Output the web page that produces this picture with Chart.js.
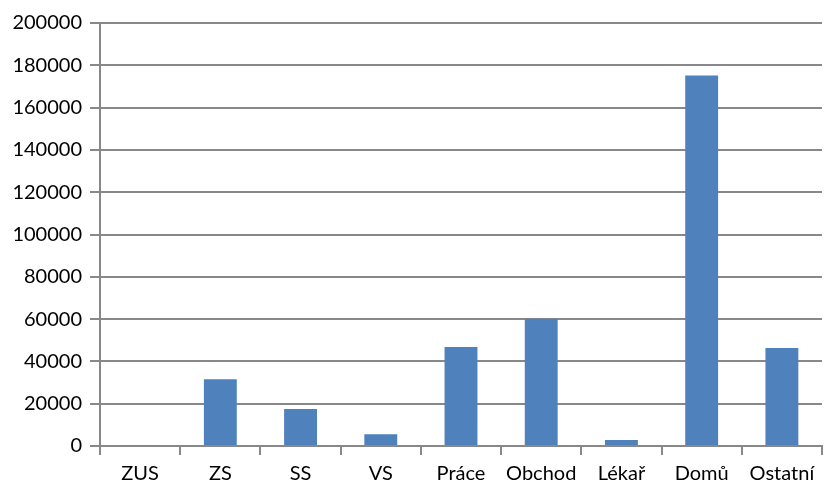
<!DOCTYPE html>
<html>
<head>
<meta charset="utf-8">
<script src="https://cdn.jsdelivr.net/npm/chart.js@4"></script>
<style>
    html, body { margin: 0; padding: 0; background: #fff; }
    #wrap { width: 824px; height: 488px; }
</style>
</head>
<body>
<div id="wrap"><canvas id="chart" width="824" height="488"></canvas></div>
<script>
const categories = ["ZUS", "ZS", "SS", "VS", "Práce", "Obchod", "Lékař", "Domů", "Ostatní"];
const values = [400, 31600, 17500, 5600, 46800, 60200, 2800, 175200, 46300];
const yTicks = [0, 20000, 40000, 60000, 80000, 100000, 120000, 140000, 160000, 180000, 200000];

const gridColor = '#888888';
const font = { family: 'Lato, "Open Sans", sans-serif', size: 20 };

new Chart(document.getElementById('chart').getContext('2d'), {
    type: 'bar',
    data: {
        labels: categories,
        datasets: [{
            data: values,
            backgroundColor: '#4F81BD',
            borderWidth: 0,
            categoryPercentage: 1,
            barPercentage: 0.41
        }]
    },
    options: {
        responsive: false,
        animation: false,
        layout: { padding: { top: 23, right: 2, left: 0, bottom: 0 } },
        plugins: { legend: { display: false }, tooltip: { enabled: false } },
        scales: {
            x: {
                grid: { drawOnChartArea: false, drawTicks: true, tickLength: 9, color: gridColor, lineWidth: 2, offset: true },
                border: { color: gridColor, width: 2 },
                ticks: { color: '#000', font: font, padding: 7, maxRotation: 0 },
                afterFit: scale => { scale.height = 42; }
            },
            y: {
                min: 0,
                max: 200000,
                afterBuildTicks: scale => { scale.ticks = yTicks.map(v => ({ value: v })); },
                grid: { color: gridColor, lineWidth: 2, tickLength: 10 },
                border: { color: gridColor, width: 2 },
                ticks: { color: '#000', font: font, padding: 8, callback: v => String(v) },
                afterFit: scale => { scale.width = 100; }
            }
        }
    }
});
</script>
</body>
</html>
